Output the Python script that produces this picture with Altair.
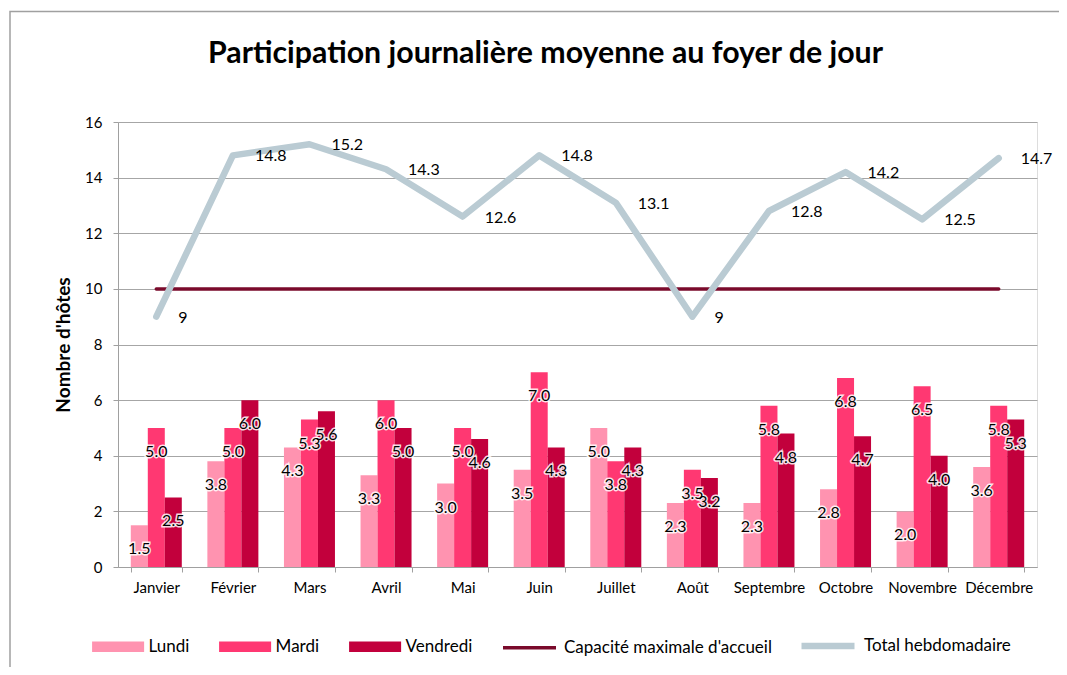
import altair as alt
import pandas as pd

mois = ["Janvier", "Février", "Mars", "Avril", "Mai", "Juin", "Juillet",
        "Août", "Septembre", "Octobre", "Novembre", "Décembre"]
jours = ["Lundi", "Mardi", "Vendredi"]
lundi = [1.5, 3.8, 4.3, 3.3, 3.0, 3.5, 5.0, 2.3, 2.3, 2.8, 2.0, 3.6]
mardi = [5.0, 5.0, 5.3, 6.0, 5.0, 7.0, 3.8, 3.5, 5.8, 6.8, 6.5, 5.8]
vendredi = [2.5, 6.0, 5.6, 5.0, 4.6, 4.3, 4.3, 3.2, 4.8, 4.7, 4.0, 5.3]
capacite = [10] * 12
total = [9, 14.8, 15.2, 14.3, 12.6, 14.8, 13.1, 9, 12.8, 14.2, 12.5, 14.7]

titre = "Participation journalière moyenne au foyer de jour"
cap_name = "Capacité maximale d'accueil"
tot_name = "Total hebdomadaire"

bar_colors = ["#FF93B0", "#FF3872", "#C2003C"]
cap_color = "#7A0A2B"
tot_color = "#BACBD3"

FONT = "Lato"
W, H = 919, 445

rows = []
for j, vals in zip(jours, [lundi, mardi, vendredi]):
    for m, v in zip(mois, vals):
        rows.append({"mois": m, "jour": j, "valeur": v, "txt": f"{v:.1f}"})
bars_df = pd.DataFrame(rows)

lines_rows = []
for m, v in zip(mois, capacite):
    lines_rows.append({"mois": m, "serie": cap_name, "valeur": v})
for m, v in zip(mois, total):
    lines_rows.append({"mois": m, "serie": tot_name, "valeur": v,
                       "txt": (f"{v:g}")})
lines_df = pd.DataFrame(lines_rows)

x_enc = alt.X("mois:N", sort=mois, title=None,
              scale=alt.Scale(paddingInner=0.334, paddingOuter=0.167),
              axis=alt.Axis(labelFont=FONT, labelFontSize=15, labelColor="#000000",
                            labelAngle=0, tickBand="extent", tickSize=5,
                            tickColor="#A0A0A0", domainColor="#A0A0A0",
                            labelPadding=8, grid=False))
y_scale = alt.Scale(domain=[0, 16], nice=False)
y_enc = alt.Y("valeur:Q", scale=y_scale, title="Nombre d'hôtes",
              axis=alt.Axis(values=list(range(0, 17, 2)), labelFont=FONT,
                            labelFontSize=15, labelColor="#000000",
                            tickSize=5, tickColor="#A0A0A0", domainColor="#A0A0A0",
                            labelPadding=11, gridColor="#A6A6A6", gridWidth=1,
                            titleFont=FONT, titleFontSize=19, titleFontWeight="bold",
                            titleColor="#000000", titleX=-55, titleY=H / 2,
                            titleAngle=270, titleBaseline="middle"))
xoff = alt.XOffset("jour:N", sort=jours, scale=alt.Scale(paddingInner=0, paddingOuter=0))

base_bars = alt.Chart(bars_df)

bars = base_bars.mark_bar().encode(
    x=x_enc, xOffset=xoff, y=y_enc,
    color=alt.Color("jour:N", sort=jours,
                    scale=alt.Scale(domain=jours, range=bar_colors),
                    legend=alt.Legend(title=None, orient="none", direction="horizontal",
                                      legendX=-27, legendY=513,
                                      symbolType="M-2.5,-0.5H2.5V0.5H-2.5Z",
                                      symbolSize=433, symbolOffset=15.6,
                                      labelOffset=19, columnPadding=28,
                                      labelFont=FONT, labelFontSize=17,
                                      labelColor="#000000", symbolOpacity=1,
                                      labelLimit=0)),
)

bar_halo = base_bars.mark_text(font=FONT, fontSize=16, dy=24, baseline="middle",
                               stroke="white", strokeWidth=3, strokeOpacity=0.85,
                               fill="white").encode(
    x=alt.X("mois:N", sort=mois), xOffset=xoff, y=alt.Y("valeur:Q", scale=y_scale),
    text="txt:N")
bar_text = base_bars.mark_text(font=FONT, fontSize=16, dy=24, baseline="middle",
                               color="#000000").encode(
    x=alt.X("mois:N", sort=mois), xOffset=xoff, y=alt.Y("valeur:Q", scale=y_scale),
    text="txt:N")

stroke_enc = alt.Stroke("serie:N", sort=[cap_name, tot_name],
                        scale=alt.Scale(domain=[cap_name, tot_name],
                                        range=[cap_color, tot_color]),
                        legend=alt.Legend(title=None, orient="none", direction="horizontal",
                                          legendX=383, legendY=494,
                                          symbolType="stroke", symbolSize=2809,
                                          symbolStrokeWidth=5,
                                          labelOffset=6, columnPadding=16,
                                          labelFont=FONT, labelFontSize=17,
                                          labelColor="#000000", labelLimit=0))

lines = alt.Chart(lines_df).mark_line(strokeCap="round", strokeJoin="round").encode(
    x=alt.X("mois:N", sort=mois), y=alt.Y("valeur:Q", scale=y_scale),
    stroke=stroke_enc,
    strokeWidth=alt.StrokeWidth("serie:N", scale=alt.Scale(domain=[cap_name, tot_name],
                                                           range=[3.5, 6.5]),
                                legend=None),
    detail="serie:N",
)

line_text = alt.Chart(lines_df).transform_filter(
    alt.datum.serie == tot_name
).mark_text(font=FONT, fontSize=16, align="left", baseline="middle", dx=22, dy=1,
            color="#000000").encode(
    x=alt.X("mois:N", sort=mois), y=alt.Y("valeur:Q", scale=y_scale), text="txt:N")

frame = alt.Chart(pd.DataFrame({"a": [0]})).mark_rect(
    fill=None, stroke="#A0A0A0", strokeWidth=1.5).encode(
    x=alt.value(-108), x2=alt.value(W + 400), y=alt.value(-110.5), y2=alt.value(H + 200))

title_mark = alt.Chart(pd.DataFrame({"t": [titre]})).mark_text(
    font=FONT, fontSize=30.3, fontWeight="bold", color="#000000",
    align="center", baseline="alphabetic").encode(
    x=alt.value(W / 2 - 32), y=alt.value(-59), text="t:N")

chart = alt.layer(frame, bars, lines, bar_halo, bar_text, line_text, title_mark).properties(
    width=W, height=H,
    autosize=alt.AutoSizeParams(type="none"),
    padding={"left": 110, "top": 114, "right": 22, "bottom": 100},
).resolve_scale(color="independent").configure_view(stroke=None).configure(
    background="white")

chart.save("out.html", embed_options={"renderer": "svg", "actions": False})
